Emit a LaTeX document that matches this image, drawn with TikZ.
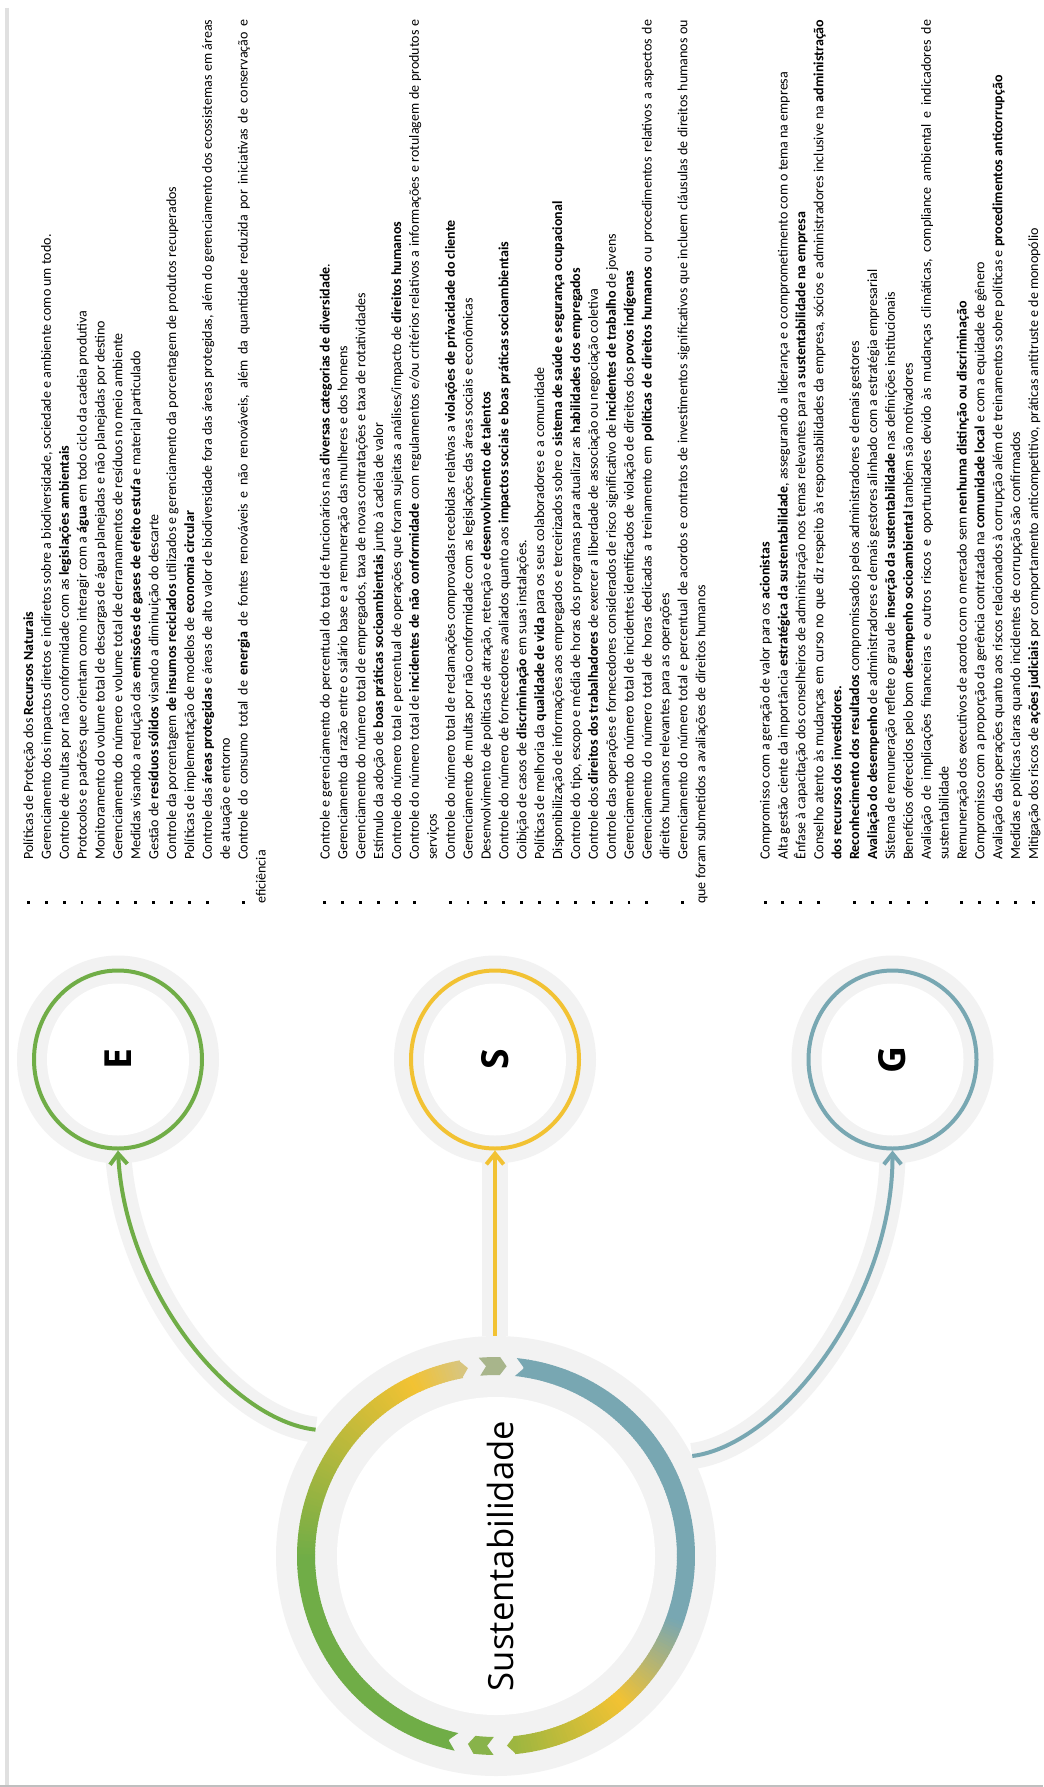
\documentclass[tikz,border=0pt]{standalone}
\usepackage{fontspec}
\usepackage{graphicx}
\setmainfont{Carlito}
\newfontfamily\esgsans{Open Sans}
\usetikzlibrary{arrows.meta,shapes.geometric,backgrounds}

\definecolor{esgGreen}{HTML}{70AD47}
\definecolor{esgGold}{HTML}{F2C233}
\definecolor{esgTeal}{HTML}{78A7B2}
\definecolor{esgTan}{HTML}{D8C57E}
\definecolor{esgOlive}{HTML}{9DB640}
\definecolor{esgChevTop}{HTML}{A8B58B}
\definecolor{esgChevBot}{HTML}{88B34A}
\definecolor{esgHalo}{HTML}{F2F2F2}

% list items: small square bullet, hanging indent
\newcommand{\esgsetup}{\hyphenpenalty=10000\exhyphenpenalty=10000\tolerance=10000}
\newcommand{\esgitem}{\noindent\hangindent=33pt\hangafter=1%
  \makebox[33pt][l]{\raisebox{2.4pt}{\rule{2.2pt}{2.2pt}}}\ignorespaces}

\tikzset{
  esglist/.style={rotate=90, anchor=base west, inner sep=0pt, text width=663pt, align=justify,
    font=\fontsize{10.5}{13.42}\selectfont},
  smallring/.style={ellipse, draw=#1, line width=3pt, minimum width=126pt, minimum height=133.5pt,
    inner sep=0pt, font=\esgsans\bfseries\fontsize{28}{28}\selectfont},
  halodisk/.style={circle, fill=esgHalo, minimum size=330pt, inner sep=0pt},
  halo/.style={esgHalo, line width=19.5pt},
  link/.style={draw=#1, line width=3pt, -{Straight Barb[length=8pt,width=13pt]}},
  ringseg/.style={line width=13.5pt},
}

\begin{document}
\begin{tikzpicture}[x=0.75pt, y=0.75pt]
  \useasboundingbox (0,0) rectangle (1043,-1787);

  % page edges
  \draw[line width=3pt, black!12] (6.5,-8) -- (6.5,-1787);
  \draw[line width=1.5pt, black!25] (0,-1786) -- (1043,-1786);

  % text blocks
  \node[esglist] (listE) at (33,-904) {\esgsetup
    \esgitem Políticas de Proteção dos \textbf{Recursos Naturais}\par
    \esgitem Gerenciamento dos impactos diretos e indiretos sobre a biodiversidade, sociedade e ambiente como um todo.\par
    \esgitem Controle de multas por não conformidade com as \textbf{legislações ambientais}\par
    \esgitem Protocolos e padrões que orientam como interagir com a \textbf{água} em todo ciclo da cadeia produtiva\par
    \esgitem Monitoramento do volume total de descargas de água planejadas e não planejadas por destino\par
    \esgitem Gerenciamento do número e volume total de derramamentos de resíduos no meio ambiente\par
    \esgitem Medidas visando a redução das \textbf{emissões de gases de efeito estufa} e material particulado\par
    \esgitem Gestão de \textbf{resíduos sólidos} visando a diminuição do descarte\par
    \esgitem Controle da porcentagem \textbf{de insumos reciclados} utilizados e gerenciamento da porcentagem de produtos recuperados\par
    \esgitem Políticas de implementação de modelos de \textbf{economia circular}\par
    \esgitem Controle das \textbf{áreas protegidas} e áreas de alto valor de biodiversidade fora das áreas protegidas, além do gerenciamento dos ecossistemas em áreas\linebreak de atuação e entorno\par
    \esgitem Controle do consumo total de \textbf{energia} de fontes renováveis e não renováveis, além da quantidade reduzida por iniciativas de conservação e\linebreak eficiência};

  \node[esglist] (listS) at (329.5,-904) {\esgsetup
    \esgitem Controle e gerenciamento do percentual do total de funcionários nas \textbf{diversas categorias de diversidade}.\par
    \esgitem Gerenciamento da razão entre o salário base e a remuneração das mulheres e dos homens\par
    \esgitem Gerenciamento do número total de empregados, taxa de novas contratações e taxa de rotatividades\par
    \esgitem Estímulo da adoção de \textbf{boas práticas socioambientais} junto à cadeia de valor\par
    \esgitem Controle do número total e percentual de operações que foram sujeitas a análises/impacto de \textbf{direitos humanos}\par
    \esgitem Controle do número total de \textbf{incidentes de não conformidade} com regulamentos e/ou critérios relativos a informações e rotulagem de produtos e\linebreak serviços\par
    \esgitem Controle do número total de reclamações comprovadas recebidas relativas a \textbf{violações de privacidade do cliente}\par
    \esgitem Gerenciamento de multas por não conformidade com as legislações das áreas sociais e econômicas\par
    \esgitem Desenvolvimento de políticas de atração, retenção e \textbf{desenvolvimento de talentos}\par
    \esgitem Controle do número de fornecedores avaliados quanto aos \textbf{impactos sociais e boas práticas socioambientais}\par
    \esgitem Coibição de casos de \textbf{discriminação} em suas instalações.\par
    \esgitem Políticas de melhoria da \textbf{qualidade de vida} para os seus colaboradores e a comunidade\par
    \esgitem Disponibilização de informações aos empregados e terceirizados sobre o \textbf{sistema de saúde e segurança ocupacional}\par
    \esgitem Controle do tipo, escopo e média de horas dos programas para atualizar as \textbf{habilidades dos empregados}\par
    \esgitem Controle dos \textbf{direitos dos trabalhadores} de exercer a liberdade de associação ou negociação coletiva\par
    \esgitem Controle das operações e fornecedores considerados de risco significativo de \textbf{incidentes de trabalho} de jovens\par
    \esgitem Gerenciamento do número total de incidentes identificados de violação de direitos dos \textbf{povos indígenas}\par
    \esgitem Gerenciamento do número total de horas dedicadas a treinamento em \textbf{políticas de direitos humanos} ou procedimentos relativos a aspectos de\linebreak direitos humanos relevantes para as operações\par
    \esgitem Gerenciamento do número total e percentual de acordos e contratos de investimentos significativos que incluem cláusulas de direitos humanos ou\linebreak que foram submetidos a avaliações de direitos humanos};

  \node[esglist] (listG) at (769.7,-904) {\esgsetup
    \esgitem Compromisso com a geração de valor para os \textbf{acionistas}\par
    \esgitem Alta gestão ciente da importância \textbf{estratégica da sustentabilidade}, assegurando a liderança e o comprometimento com o tema na empresa\par
    \esgitem Ênfase à capacitação dos conselheiros de administração nos temas relevantes para a \textbf{sustentabilidade na empresa}\par
    \esgitem Conselho atento às mudanças em curso no que diz respeito às responsabilidades da empresa, sócios e administradores inclusive na \textbf{administração}\linebreak \textbf{dos recursos dos investidores.}\par
    \esgitem \textbf{Reconhecimento dos resultados} compromissados pelos administradores e demais gestores\par
    \esgitem \textbf{Avaliação do desempenho} de administradores e demais gestores alinhado com a estratégia empresarial\par
    \esgitem Sistema de remuneração reflete o grau de \textbf{inserção da sustentabilidade} nas definições institucionais\par
    \esgitem Benefícios oferecidos pelo bom \textbf{desempenho socioambiental} também são motivadores\par
    \esgitem Avaliação de implicações financeiras e outros riscos e oportunidades devido às mudanças climáticas, compliance ambiental e indicadores de\linebreak sustentabilidade\par
    \esgitem Remuneração dos executivos de acordo com o mercado sem \textbf{nenhuma distinção ou discriminação}\par
    \esgitem Compromisso com a proporção da gerência contratada na \textbf{comunidade local} e com a equidade de gênero\par
    \esgitem Avaliação das operações quanto aos riscos relacionados à corrupção além de treinamentos sobre políticas e \textbf{procedimentos anticorrupção}\par
    \esgitem Medidas e políticas claras quando incidentes de corrupção são confirmados\par
    \esgitem Mitigação dos riscos de \textbf{ações judiciais} por comportamento anticompetitivo, práticas antitruste e de monopólio};

  % E, S, G circles
  \coordinate (cE) at (118,-1059.5);
  \coordinate (cS) at (495,-1059.5);
  \coordinate (cG) at (892.5,-1059.5);
  \foreach \c in {cE,cS,cG}{
    \fill[esgHalo] (\c) ellipse [x radius=101, y radius=104];
    \fill[white] (\c) ellipse [x radius=71, y radius=76];
  }
  \node[smallring=esgGreen] (circE) at (cE) {\rotatebox{90}{E}};
  \node[smallring=esgGold] (circS) at (cS) {\rotatebox{90}{S}};
  \node[smallring=esgTeal] (circG) at (cG) {\rotatebox{90}{G}};

  % Sustentabilidade ring
  \node[halodisk] (sust) at (496,-1556) {};
  \begin{scope}[shift={(sust.center)}]
    \foreach \a in {100.5,101.5,...,254.5}{
      \pgfmathtruncatemacro{\p}{max(0,min(100,(\a-115)/0.65))}
      \pgfmathtruncatemacro{\q}{max(0,min(100,(\a-100)/0.15))}
      \ifdim\a pt<115pt \colorlet{segcol}{esgGold!\q!esgTan}\else\colorlet{segcol}{esgGreen!\p!esgGold}\fi
      \draw[ringseg, segcol] (\a:190) arc [start angle=\a, end angle=\a+1.2, radius=190];
    }
    \foreach \a in {-84.5,-83.5,...,80.5}{
      \pgfmathtruncatemacro{\p}{max(0,min(100,(\a+50)/0.30))}
      \pgfmathtruncatemacro{\q}{max(0,min(100,(\a+85)/0.35))}
      \ifdim\a pt<-50pt \colorlet{segcol}{esgGold!\q!esgOlive}\else\colorlet{segcol}{esgTeal!\p!esgGold}\fi
      \draw[ringseg, segcol] (\a:190) arc [start angle=\a, end angle=\a+1.2, radius=190];
    }
    % arrow heads, tails and chevrons
    \fill[esgTan] (100.8:199) -- (98.5:190) -- (100.8:181) -- cycle;
    \fill[esgGreen] (258:199) arc [start angle=258, end angle=255.5, radius=199]
      -- (255.5:181) arc [start angle=255.5, end angle=258, radius=181] -- (255.5:190) -- cycle;
    \fill[esgOlive] (-84.2:199) -- (-86.7:190) -- (-84.2:181) -- cycle;
    \fill[esgTeal] (84:199) arc [start angle=84, end angle=81.5, radius=199]
      -- (81.5:181) arc [start angle=81.5, end angle=84, radius=181] -- (81.5:190) -- cycle;
    \fill[esgChevTop] (95:199) arc [start angle=95, end angle=88.8, radius=199] -- (86.8:190)
      -- (88.8:181) arc [start angle=88.8, end angle=95, radius=181] -- (93:190) -- cycle;
    \fill[esgChevBot] (269.3:199) arc [start angle=269.3, end angle=263.5, radius=199] -- (261.5:190)
      -- (263.5:181) arc [start angle=263.5, end angle=269.3, radius=181] -- (267.3:190) -- cycle;
    \fill[white] (0,0) circle [radius=159];
  \end{scope}
  \node[rotate=90, font=\esgsans\fontsize{26}{26}\selectfont] (sustlabel) at ([xshift=3pt]sust.center) {Sustentabilidade};

  % links
  \draw[link=esgGreen] (sust.145) .. controls (230,-1420) and (125,-1290) .. (circE.south);
  \draw[link=esgGold] (circS.south |- sust.north) -- (circS.south);
  \draw[link=esgTeal] (sust.27) .. controls (780,-1445) and (893,-1300) .. (circG.south);

  \begin{scope}[on background layer]
    \fill[white] (0,0) rectangle (1043,-1787);
    \draw[halo] (sust.145) .. controls (230,-1420) and (125,-1290) .. (circE.south);
    \draw[halo] (circS.south |- sust.north) -- (circS.south);
    \draw[halo] (sust.27) .. controls (780,-1445) and (893,-1300) .. (circG.south);
  \end{scope}
\end{tikzpicture}
\end{document}
